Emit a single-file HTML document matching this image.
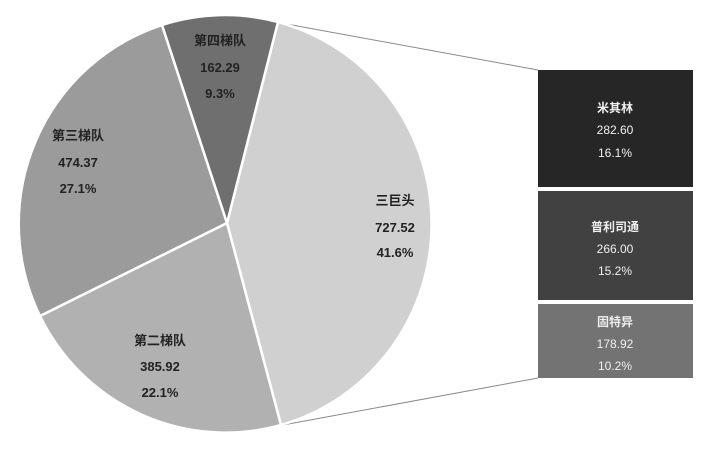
<!DOCTYPE html>
<html><head><meta charset="utf-8"><style>
html,body{margin:0;padding:0;background:#fff;}
svg{display:block;}
text{font-family:"Liberation Sans","Noto Sans CJK SC",sans-serif;font-weight:bold;text-anchor:middle;}
</style></head><body>
<svg width="718" height="450" viewBox="0 0 718 450">
<rect width="718" height="450" fill="#fff"/>
<line x1="281" y1="23" x2="538" y2="70" stroke="#8a8a8a" stroke-width="1"/>
<line x1="283" y1="425" x2="538" y2="378" stroke="#8a8a8a" stroke-width="1"/>
<g stroke="#fff" stroke-width="2.5" stroke-linejoin="round">
<path d="M227,223 L278,22 A207,209 0 0 1 281,425 Z" fill="#d0d0d0"/>
<path d="M227,223 L281,425 A207,209 0 0 1 40,316 Z" fill="#b1b1b1"/>
<path d="M227,223 L40,316 A207,209 0 0 1 162,25 Z" fill="#9b9b9b"/>
<path d="M227,223 L162,25 A207,209 0 0 1 278,22 Z" fill="#6f6f6f"/>
</g>
<g font-size="13" fill="#222">
<text x="220" y="45">第四梯队</text><text x="220" y="72">162.29</text><text x="220" y="98">9.3%</text>
<text x="78" y="140">第三梯队</text><text x="78" y="167">474.37</text><text x="78" y="193">27.1%</text>
<text x="395" y="205">三巨头</text><text x="395" y="232">727.52</text><text x="395" y="257">41.6%</text>
<text x="160" y="345">第二梯队</text><text x="160" y="371">385.92</text><text x="160" y="397">22.1%</text>
</g>
<rect x="538" y="70" width="155" height="117" fill="#262626"/>
<rect x="538" y="191" width="155" height="109" fill="#414141"/>
<rect x="538" y="304" width="155" height="74" fill="#737373"/>
<g font-size="12" fill="#f0f0f0">
<text x="615" y="112">米其林</text><text x="615" y="134" style="font-weight:normal">282.60</text><text x="615" y="157" style="font-weight:normal">16.1%</text>
<text x="615" y="231">普利司通</text><text x="615" y="253" style="font-weight:normal">266.00</text><text x="615" y="275" style="font-weight:normal">15.2%</text>
<text x="615" y="326">固特异</text><text x="615" y="348" style="font-weight:normal">178.92</text><text x="615" y="370" style="font-weight:normal">10.2%</text>
</g>
</svg>
</body></html>
